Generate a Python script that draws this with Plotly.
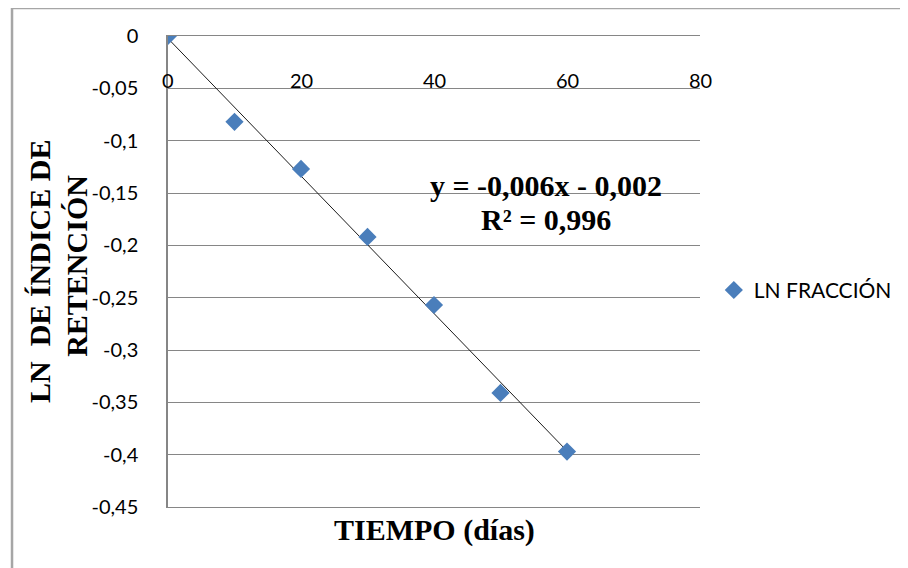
import numpy as np
import plotly.graph_objects as go

# Data
dias = [0, 10, 20, 30, 40, 50, 60]
ln_fraccion = [0.0, -0.082, -0.127, -0.192, -0.257, -0.341, -0.397]
serie_nombre = "LN FRACCIÓN"

y_tickvals = [0, -0.05, -0.1, -0.15, -0.2, -0.25, -0.3, -0.35, -0.4, -0.45]
y_ticktext = ["0", "-0,05", "-0,1", "-0,15", "-0,2", "-0,25", "-0,3", "-0,35", "-0,4", "-0,45"]
x_tickvals = [0, 20, 40, 60, 80]
x_ticktext = ["0", "20", "40", "60", "80"]

ecuacion = "y = -0,006x - 0,002"
r2_texto = "R² = 0,996"
titulo_y1 = "LN  DE ÍNDICE DE"
titulo_y2 = "RETENCIÓN"
titulo_x = "TIEMPO (días)"

# linear trend line from the data
pend, inter = np.polyfit(dias, ln_fraccion, 1)
x_tr = [min(dias), max(dias)]
y_tr = [pend * v + inter for v in x_tr]

GRID = "#868686"
SANS = "Lato, 'Open Sans', sans-serif"
SERIF = "'Liberation Serif', 'Times New Roman', serif"

fig = go.Figure()
fig.add_trace(go.Scatter(
    x=x_tr, y=y_tr, mode="lines",
    line=dict(color="#1a1a1a", width=1),
    showlegend=False, hoverinfo="skip"))
fig.add_trace(go.Scatter(
    x=dias, y=ln_fraccion, mode="markers", name=serie_nombre,
    marker=dict(symbol="diamond", size=14, color="#4A7EBB")))

# the page places the figure 8px from the top-left corner
fig.update_layout(
    width=908, height=568,
    margin=dict(l=160, r=216, t=28, b=69, pad=0, autoexpand=False),
    paper_bgcolor="white", plot_bgcolor="white",
    font=dict(family=SANS, size=20, color="#000000"),
    showlegend=True,
    legend=dict(x=1.026, y=0.46, xanchor="left", yanchor="middle",
                font=dict(family=SANS, size=21, color="#000000"),
                itemwidth=30, bgcolor="rgba(0,0,0,0)"),
    xaxis=dict(range=[0, 80], showticklabels=False, ticks="",
               showgrid=False, zeroline=False,
               showline=True, mirror=True, linecolor=GRID, linewidth=1),
    yaxis=dict(range=[-0.45, 0], tickvals=y_tickvals, ticktext=y_ticktext,
               showgrid=True, gridcolor=GRID, gridwidth=1,
               zeroline=False,
               showline=True, linecolor=GRID, linewidth=1.5,
               ticks="", ticklabelstandoff=24,
               tickfont=dict(family=SANS, size=20, color="#000000")),
)

# x tick labels sit just below the axis at y = 0
for v, t in zip(x_tickvals, x_ticktext):
    fig.add_annotation(x=v, y=0, xref="x", yref="y", text=t, showarrow=False,
                       xanchor="center", yanchor="middle", yshift=-44,
                       font=dict(family=SANS, size=20, color="#000000"))

# axis titles
fig.add_annotation(xref="paper", yref="paper", x=0.5, y=-0.049,
                   text=f"<b>{titulo_x}</b>", showarrow=False,
                   xanchor="center", yanchor="middle",
                   font=dict(family=SERIF, size=30, color="#000000"))
fig.add_annotation(xref="paper", yref="paper", x=-0.2406, y=0.499,
                   text=f"<b>{titulo_y1}</b>", showarrow=False,
                   textangle=-90, xanchor="center", yanchor="middle",
                   font=dict(family=SERIF, size=30, color="#000000"))
fig.add_annotation(xref="paper", yref="paper", x=-0.1711, y=0.512,
                   text=f"<b>{titulo_y2}</b>", showarrow=False,
                   textangle=-90, xanchor="center", yanchor="middle",
                   font=dict(family=SERIF, size=30, color="#000000"))
# trendline equation
fig.add_annotation(x=56.84, y=-0.1433, xref="x", yref="y",
                   text=f"<b>{ecuacion}</b>", showarrow=False,
                   xanchor="center", yanchor="middle",
                   font=dict(family=SERIF, size=30, color="#000000"))
fig.add_annotation(x=56.84, y=-0.1749, xref="x", yref="y",
                   text=f"<b>{r2_texto}</b>", showarrow=False,
                   xanchor="center", yanchor="middle",
                   font=dict(family=SERIF, size=30, color="#000000"))

# outer chart frame
FRAME = "#A6A6A6"
fig.add_shape(type="line", xref="paper", yref="paper",
              x0=-0.2932, y0=1.0594, x1=1.5, y1=1.0594,
              line=dict(color=FRAME, width=2.5))
fig.add_shape(type="line", xref="paper", yref="paper",
              x0=-0.2932, y0=1.0594, x1=-0.2932, y1=-0.2,
              line=dict(color=FRAME, width=2.5))

fig.write_html("out.html")
